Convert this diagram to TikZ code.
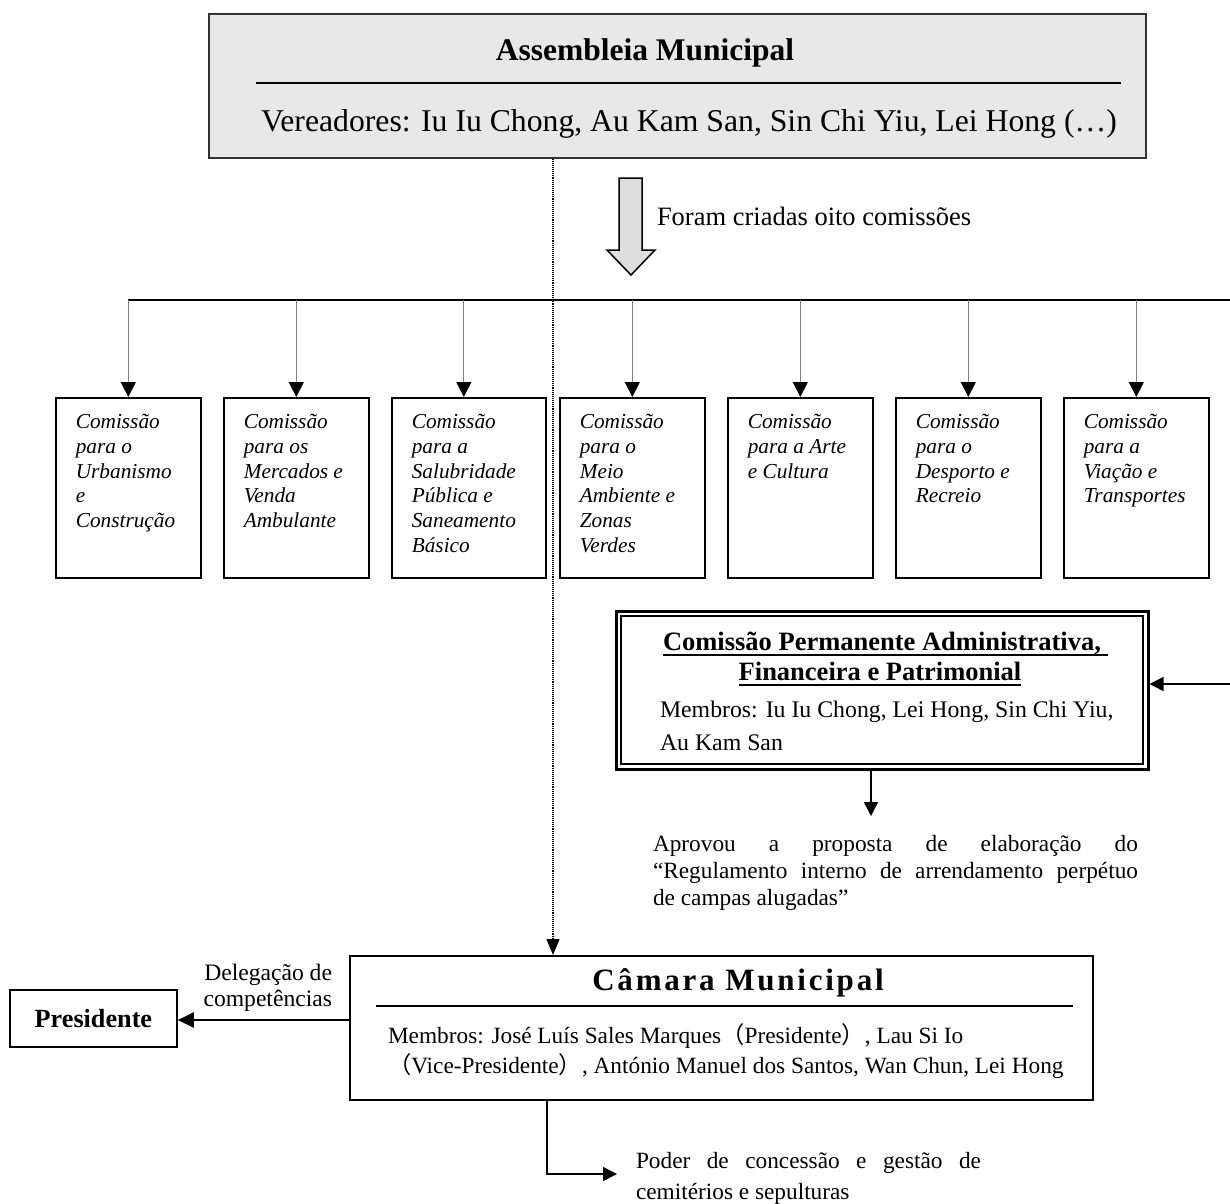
\documentclass[tikz,border=0pt]{standalone}
\usepackage{fontspec}
\setmainfont{Liberation Serif}
\newfontfamily\cjk{Noto Sans CJK SC}
\usetikzlibrary{arrows.meta}
\newcommand\fsz[2]{\fontsize{#1}{#2}\selectfont}
\newcommand\combox[2]{\parbox[c][180pt][t]{#1}{\raggedright\leftskip=20pt\relax\rule{0pt}{31pt}#2}}
\begin{document}
\begin{tikzpicture}[x=1pt,y=-1pt,
  txt/.style={inner sep=0pt, outer sep=0pt},
  comm/.style={draw, line width=1.6pt, inner sep=0pt, anchor=north west, font=\fsz{21.3}{24.7}\itshape},
  comarr/.style={draw=gray, line width=1pt, -{Triangle[width=15pt,length=15pt,color=black]}},
  arr/.style={line width=1.5pt, -{Triangle[width=14pt,length=14pt]}},
  thickarr/.style={line width=2.2pt, -{Triangle[width=15pt,length=16pt]}},
  dotarr/.style={line width=1.1pt, densely dotted, -{Triangle[width=13pt,length=16pt]}},
  box/.style={draw, line width=1.8pt, inner sep=0pt, anchor=north west},
  memb/.style={txt, font=\fsz{23.3}{28}},
]
\useasboundingbox (0,0) rectangle (1230,1203);

% Assembleia Municipal
\node[draw=black!80, line width=1.5pt, fill=gray!18, minimum width=937pt, minimum height=144pt, inner sep=0pt, anchor=north west] (asm) at (208,13) {};
\node[txt, anchor=base, font=\fsz{31.5}{36}\bfseries] (asmT) at (645,60) {Assembleia Municipal};
\draw[line width=1.5pt] (256,83) -- (1121,83);
\node[txt, anchor=base west, font=\fsz{31.7}{36}] (asmM) at (261,131) {Vereadores: Iu Iu Chong, Au Kam San, Sin Chi Yiu, Lei Hong (…)};

% block arrow
\draw[line width=1.5pt, fill=gray!26, line join=miter] (619,178) -- (642,178) -- (642,250) -- (655,250) -- (631,275) -- (607,250) -- (619,250) -- cycle;
\node[txt, anchor=base west, font=\fsz{26.5}{30}] (foram) at (657,225) {Foram criadas oito comissões};

% committees
\node[comm] (c1) at (55,397) {\combox{145pt}{Comissão\\para o\\Urbanismo\\e\\Construção}};
\node[comm] (c2) at (223,397) {\combox{145pt}{Comissão\\para os\\Mercados e\\Venda\\Ambulante}};
\node[comm] (c3) at (391,397) {\combox{154pt}{Comissão\\para a\\Salubridade\\Pública e\\Saneamento\\Básico}};
\node[comm] (c4) at (559,397) {\combox{145pt}{Comissão\\para o\\Meio\\Ambiente e\\Zonas\\Verdes}};
\node[comm] (c5) at (727,397) {\combox{145pt}{Comissão\\para a Arte\\e Cultura}};
\node[comm] (c6) at (895,397) {\combox{145pt}{Comissão\\para o\\Desporto e\\Recreio}};
\node[comm] (c7) at (1063,397) {\combox{145pt}{Comissão\\para a\\Viação e\\Transportes}};

\coordinate (busR) at (1230,300);
\draw[line width=2.2pt] (c1.north |- busR) -- (busR);
\foreach \c in {c1,c2,c4,c5,c6,c7}{\draw[comarr] (\c.north |- busR) -- (\c.north);}
\draw[comarr] ([xshift=-5pt]c3.north |- busR) -- ([xshift=-5pt]c3.north);

% Comissao Permanente
\node[draw, line width=3pt, minimum width=532pt, minimum height=158pt, inner sep=0pt, anchor=north west] (perm) at (614.5,609.5) {};
\draw[line width=1.4pt] ([shift={(6.5pt,-6.5pt)}]perm.north west) rectangle ([shift={(-6.5pt,6.5pt)}]perm.south east);
\node[txt, anchor=base west, font=\fsz{26.5}{30}\bfseries] (p1) at (663,650) {Comissão Permanente Administrativa,\kern7pt};
\draw[line width=2pt] ([yshift=-4.5pt]p1.base west) -- ([yshift=-4.5pt]p1.base east);
\node[txt, anchor=base, font=\fsz{26.5}{30}\bfseries] (p2) at (880,680) {Financeira e Patrimonial};
\draw[line width=2pt] ([yshift=-4.5pt]p2.base west) -- ([yshift=-4.5pt]p2.base east);
\node[memb, anchor=base west, font=\fsz{23.8}{28}] (p3) at (660,717) {Membros: Iu Iu Chong, Lei Hong, Sin Chi Yiu,};
\node[memb, anchor=base west, font=\fsz{23.8}{28}] (p4) at (660,750) {Au Kam San};

\coordinate (feedR) at (1230,684);
\draw[arr] (feedR) -- (perm.east |- feedR);

% Aprovou
\node[memb, anchor=base west] (a1) at (653,851) {\makebox[485pt][s]{Aprovou a proposta de elaboração do}};
\node[memb, anchor=base west] (a2) at (653,878) {\makebox[485pt][s]{“Regulamento interno de arrendamento perpétuo}};
\node[memb, anchor=base west] (a3) at (653,905) {de campas alugadas”};
\coordinate (aprov) at (871,816);
\draw[arr] (perm.south -| aprov) -- (aprov);

% Camara Municipal
\node[box, minimum width=743pt, minimum height=144pt] (cam) at (349,955) {};
\node[txt, anchor=base, font=\fsz{31}{36}\bfseries\addfontfeature{LetterSpace=9}] (camT) at (738,990) {Câmara Municipal};
\draw[line width=1.6pt] (376,1006) -- (1073,1006);
\node[memb, anchor=base west] (m1) at (388,1043) {Membros: José Luís Sales Marques{\cjk （}Presidente{\cjk ）}, Lau Si Io};
\node[memb, anchor=base west] (m2) at (388,1073) {{\cjk （}Vice-Presidente{\cjk ）}, António Manuel dos Santos, Wan Chun, Lei Hong};

\coordinate (dotx) at (553,0);
\draw[dotarr] (asm.south -| dotx) -- (cam.north -| dotx);

% Presidente
\node[box, minimum width=167pt, minimum height=57pt, font=\fsz{26.2}{30}\bfseries] (pres) at (9,989) {Presidente};
\node[memb, anchor=base east, font=\fsz{23.6}{28}] (d1) at (332,980) {Delegação de};
\node[memb, anchor=base east, font=\fsz{23.6}{28}] (d2) at (332,1006) {competências};
\coordinate (presy) at (0,1020);
\draw[thickarr] (cam.west |- presy) -- (pres.east |- presy);

% Poder
\node[memb, anchor=base west] (q1) at (636,1168) {\makebox[345pt][s]{Poder de concessão e gestão de}};
\node[memb, anchor=base west] (q2) at (636,1199) {cemitérios e sepulturas};
\coordinate (podarr) at (617,1174);
\draw[arr] (cam.south -| 547,0) |- (podarr);
\end{tikzpicture}
\end{document}
